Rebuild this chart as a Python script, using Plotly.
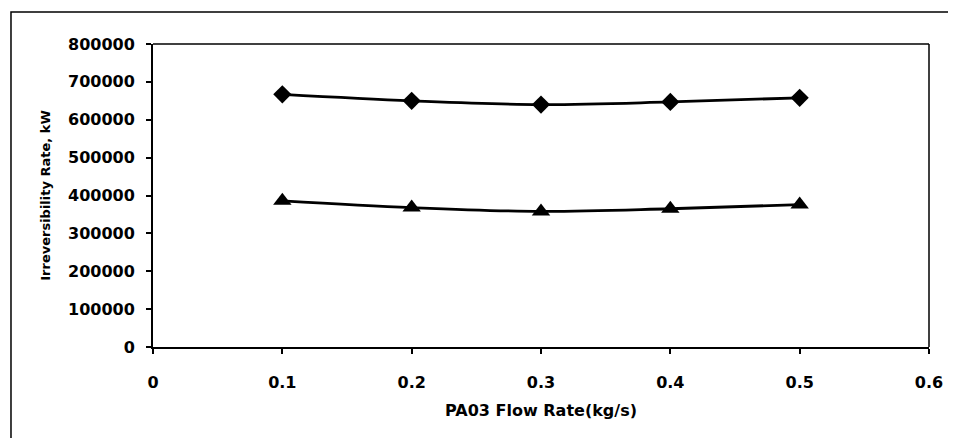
import plotly.graph_objects as go

flow_rate = [0.1, 0.2, 0.3, 0.4, 0.5]
series_diamond = [667000, 650000, 640000, 647000, 658000]
series_triangle = [386000, 368000, 358000, 365000, 376000]
x_ticks = [0, 0.1, 0.2, 0.3, 0.4, 0.5, 0.6]
x_ticklabels = ["0", "0.1", "0.2", "0.3", "0.4", "0.5", "0.6"]
y_ticks = [0, 100000, 200000, 300000, 400000, 500000, 600000, 700000, 800000]
y_ticklabels = [str(v) for v in y_ticks]

font_fam = "DejaVu Sans, Liberation Sans, Arial, sans-serif"

fig = go.Figure()
fig.add_trace(go.Scatter(
    x=flow_rate, y=series_diamond, mode="lines+markers",
    line=dict(color="black", width=2.8, shape="spline"),
    marker=dict(symbol="diamond", size=14, color="black"),
    showlegend=False, cliponaxis=False))
fig.add_trace(go.Scatter(
    x=flow_rate, y=series_triangle, mode="lines+markers",
    line=dict(color="black", width=2.8, shape="spline"),
    marker=dict(symbol="triangle-up", size=16, color="black"),
    showlegend=False, cliponaxis=False))

fig.update_layout(
    width=940, height=430,
    margin=dict(l=145, r=19, t=36, b=91),
    paper_bgcolor="white", plot_bgcolor="white",
    font=dict(family=font_fam, color="black"),
    xaxis=dict(
        range=[0, 0.6], tickvals=x_ticks, ticktext=x_ticklabels,
        showgrid=False, zeroline=False, automargin=False,
        showline=True, linecolor="black", linewidth=2,
        ticks="outside", ticklen=5, tickwidth=1.5, tickcolor="black",
        ticklabelstandoff=15, ticklabeloverflow="allow",
        tickfont=dict(size=16, family=font_fam, weight="bold"),
        title=dict(text="<b>PA03 Flow Rate(kg/s)</b>", font=dict(size=16), standoff=14),
    ),
    yaxis=dict(
        range=[0, 800000], tickvals=y_ticks, ticktext=y_ticklabels,
        showgrid=False, zeroline=False, automargin=False,
        showline=True, linecolor="black", linewidth=2,
        ticks="outside", ticklen=5, tickwidth=1.5, tickcolor="black",
        ticklabelstandoff=8, ticklabeloverflow="allow",
        tickfont=dict(size=16, family=font_fam, weight="bold"),
        title=dict(text="<b>Irreversibility Rate, kW</b>", font=dict(size=13), standoff=14),
    ),
    shapes=[
        dict(type="line", xref="paper", yref="paper", x0=0, x1=1, y0=1, y1=1,
             line=dict(color="black", width=1.5)),
        dict(type="line", xref="paper", yref="paper", x0=1, x1=1, y0=0, y1=1,
             line=dict(color="black", width=1.5)),
        dict(type="rect", xref="paper", yref="paper", x0=-0.183, x1=1.3, y0=-0.5, y1=1.106,
             line=dict(color="black", width=1.5)),
    ],
)

fig.write_html("out.html")
